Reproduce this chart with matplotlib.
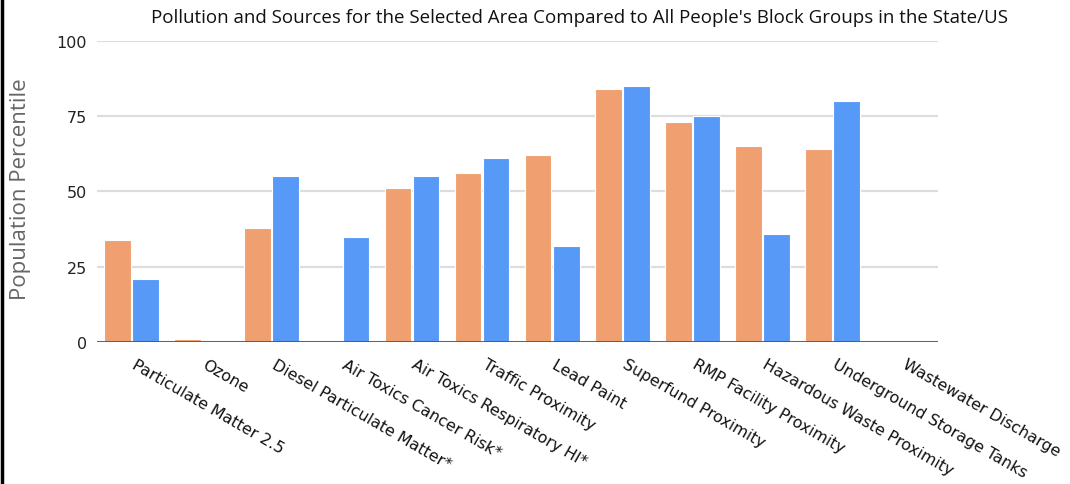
import matplotlib.pyplot as plt
from matplotlib.lines import Line2D
import matplotlib.transforms as mtransforms
import numpy as np

categories = [
    "Particulate Matter 2.5", "Ozone", "Diesel Particulate Matter*",
    "Air Toxics Cancer Risk*", "Air Toxics Respiratory HI*", "Traffic Proximity",
    "Lead Paint", "Superfund Proximity", "RMP Facility Proximity",
    "Hazardous Waste Proximity", "Underground Storage Tanks", "Wastewater Discharge",
]
state_pct = [34, 1, 38, 0, 51, 56, 62, 84, 73, 65, 64, 0]
us_pct = [21, 0, 55, 35, 55, 61, 32, 85, 75, 36, 80, 0]
y_ticks = [0, 25, 50, 75, 100]

orange = "#F0A070"
blue = "#5799F7"

fig = plt.figure(figsize=(10.7, 4.85), dpi=100)
ax = fig.add_axes([0.0902, 0.2922, 0.7862, 0.6218])

x = np.arange(len(categories))
w = 0.38
ax.bar(x - w / 2 - 0.01, state_pct, width=w, color=orange, edgecolor="white", linewidth=0.8, zorder=3)
ax.bar(x + w / 2 + 0.01, us_pct, width=w, color=blue, edgecolor="white", linewidth=0.8, zorder=3)

ax.set_xlim(-0.5, len(categories) - 0.5)
ax.set_ylim(0, 100)
ax.set_yticks(y_ticks)
ax.set_yticklabels([str(t) for t in y_ticks], fontsize=11.5, color="#222222")
ax.grid(axis="y", color="#dddddd", linewidth=1.6, zorder=0)
ax.axhline(0, color="#555555", linewidth=2, zorder=4)
for s in ax.spines.values():
    s.set_visible(False)
ax.tick_params(axis="y", length=0, pad=7)
ax.tick_params(axis="x", length=0, pad=10)

ax.set_xticks(x)
ax.set_xticklabels(categories, fontsize=11.4, rotation=-30, ha="left", va="top",
                   rotation_mode="anchor", color="#111111")
shift = mtransforms.ScaledTranslation(5 / 100, 0, fig.dpi_scale_trans)
for lab in ax.get_xticklabels():
    lab.set_transform(lab.get_transform() + shift)

fig.text(0.019, 0.61, "Population Percentile", rotation=90, fontsize=16,
         color="#666666", ha="center", va="center", family="Open Sans")
fig.text(0.542, 0.962,
         "Pollution and Sources for the Selected Area Compared to All People's Block Groups in the State/US",
         fontsize=13.5, ha="center", va="center", family="Open Sans", color="#111111")

fig.add_artist(Line2D([0.002, 0.002], [0, 1], color="black", linewidth=2.5, transform=fig.transFigure))

fig.savefig("out.png", dpi=100)
